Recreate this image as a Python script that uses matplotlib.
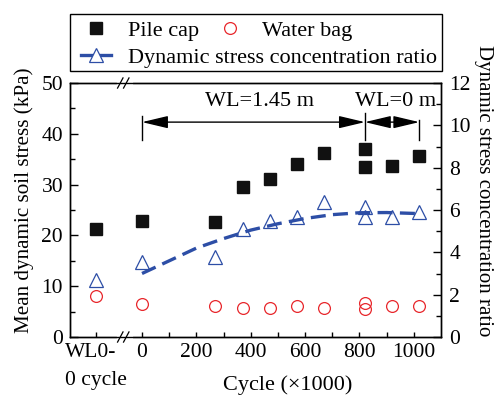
import matplotlib
matplotlib.use('Agg')
import matplotlib.pyplot as plt
from matplotlib.lines import Line2D
from matplotlib.patches import Rectangle
import matplotlib.transforms as mtransforms

plt.rcParams['font.family'] = ['Liberation Serif', 'DejaVu Serif']

# ---------------- data ----------------
wl0_x = -170                      # x position used for the "WL0-0 cycle" category
wl0_label = 'WL0-\n0 cycle'
cycles = [0, 270, 370, 470, 570, 670, 820, 820, 920, 1020]
pile_cap_wl0 = 21.2
pile_cap = [22.8, 22.6, 29.5, 31.1, 34.0, 36.2, 37.0, 33.4, 33.7, 35.6]
water_bag_wl0 = 8.1
water_bag = [6.5, 6.1, 5.8, 5.65, 6.15, 5.65, 6.75, 5.45, 6.1, 6.15]
ratio_wl0 = 2.67
ratio = [3.55, 3.78, 5.1, 5.48, 5.66, 6.39, 6.13, 5.68, 5.68, 5.9]
fit_x = [0, 100, 200, 300, 400, 500, 600, 700, 800, 900, 1020]
fit_y = [3.0, 3.6, 4.2, 4.65, 5.05, 5.35, 5.6, 5.78, 5.87, 5.88, 5.83]
wl_bounds = [0, 820, 1020]
wl_labels = ['WL=1.45 m', 'WL=0 m']
xtick_major = [0, 200, 400, 600, 800, 1000]
xtick_minor = [100, 300, 500, 700, 900]

BLUE = '#2d4ea6'
RED = '#e8262b'
FS = 15.5
LFS = 16

fig = plt.figure(figsize=(4.94, 3.97), dpi=100)
ax = fig.add_axes([70/494, 1-337/397, 371/494, 254/397])
ax2 = ax.twinx()

# ---------------- marks ----------------
ax.plot([wl0_x] + cycles, [pile_cap_wl0] + pile_cap, ls='none', marker='s',
        ms=8, mfc='#111111', mec='#111111', zorder=4)
ax.plot([wl0_x] + cycles, [water_bag_wl0] + water_bag, ls='none', marker='o',
        ms=8.5, mfc='none', mec=RED, mew=0.9, zorder=4)
ax2.plot(fit_x, fit_y, color=BLUE, lw=2.4, ls=(0, (4.5, 2.2)), zorder=3)
ax2.plot([wl0_x] + cycles, [ratio_wl0] + ratio, ls='none', marker='^',
         ms=9.5, mfc='none', mec=BLUE, mew=0.9, zorder=4)

# ---------------- axes ----------------
ax.set_xlim(-265, 1100)
ax.set_ylim(0, 50)
ax2.set_ylim(0, 12)
ax.set_yticks([0, 10, 20, 30, 40, 50])
ax.set_yticks([5, 15, 25, 35, 45], minor=True)
ax2.set_yticks([0, 2, 4, 6, 8, 10, 12])
ax2.set_yticks([1, 3, 5, 7, 9, 11], minor=True)
ax.set_xticks([wl0_x] + xtick_major)
ax.set_xticklabels([wl0_label] + [str(v) for v in xtick_major])
ax.set_xticks(xtick_minor, minor=True)
lbl0 = ax.get_xticklabels()[0]
lbl0.set_multialignment('left')
lbl0.set_linespacing(1.65)

for a in (ax, ax2):
    for s in a.spines.values():
        s.set_linewidth(1.0)
ax.tick_params(axis='y', which='major', direction='in', length=6, width=1.0,
               labelsize=FS, pad=5)
ax.tick_params(axis='y', which='minor', direction='in', length=3.5, width=1.0)
ax.tick_params(axis='x', which='both', direction='in', length=3.5, width=1.0,
               labelsize=FS, pad=4)
ax2.tick_params(axis='y', which='major', direction='in', length=6, width=1.0,
                labelsize=FS, pad=6)
ax2.tick_params(axis='y', which='minor', direction='in', length=3.5, width=1.0)

ax.set_xlabel('Cycle (×1000)', fontsize=16)
ax.xaxis.set_label_coords(0.588, -0.152)
ax.set_ylabel('Mean dynamic soil stress (kPa)', fontsize=15.2)
ax.yaxis.set_label_coords(-0.097, 0.54)
ax2.set_ylabel('Dynamic stress concentration ratio', fontsize=15,
               rotation=270, va='bottom')
ax2.yaxis.set_label_coords(1.088, 0.575)

# ---------------- axis break marks ----------------
trans = mtransforms.blended_transform_factory(ax.transData, ax.transAxes)
for yy in (0, 1):
    ax.plot([-85, -40], [yy, yy], color='white', lw=3, transform=trans,
            clip_on=False, zorder=10)
    for xc in (-80, -58):
        ax.plot([xc - 10, xc + 10], [yy - 0.02, yy + 0.02], color='k', lw=0.9,
                transform=trans, clip_on=False, zorder=11)

# ---------------- water level annotations ----------------
arrow_y = 42.3
for x0, x1 in zip(wl_bounds[:-1], wl_bounds[1:]):
    ax.annotate('', xy=(x0, arrow_y), xytext=(x1, arrow_y),
                arrowprops=dict(arrowstyle='<|-|>,head_length=1.6,head_width=0.38',
                                color='k', lw=1.0, shrinkA=0, shrinkB=0,
                                mutation_scale=10), zorder=5)
bar_tops = [43.5, 44.1, 42.7]
for xb, yt in zip(wl_bounds, bar_tops):
    ax.plot([xb, xb], [38.8, yt], color='k', lw=1.0, zorder=5)
ax.text((wl_bounds[0] + wl_bounds[1]) / 2 + 21, 46.4, wl_labels[0],
        ha='center', va='center', fontsize=LFS)
ax.text((wl_bounds[1] + wl_bounds[2]) / 2 + 11, 46.4, wl_labels[1],
        ha='center', va='center', fontsize=LFS)

# ---------------- legend ----------------
em = LFS / 72 * 100
h_sq = Line2D([], [], ls='none', marker='s', ms=8, mfc='#111111', mec='#111111')
h_ci = Line2D([], [], ls='none', marker='o', ms=8.5, mfc='none', mec=RED, mew=0.9)
h_tr = Line2D([], [], color=BLUE, lw=2.4, ls='-', marker='^', ms=9.5,
              mfc='white', mec=BLUE, mew=0.9)
fig.legend([h_sq, h_ci], ['Pile cap', 'Water bag'], ncol=2, frameon=False,
           loc='center left', bbox_to_anchor=(81/494, 1 - 31/397),
           handlelength=30/em, handletextpad=17/em, columnspacing=16/em,
           borderpad=0, borderaxespad=0, fontsize=LFS)
fig.legend([h_tr], ['Dynamic stress concentration ratio'], frameon=False,
           loc='center left', bbox_to_anchor=(81/494, 1 - 58/397),
           handlelength=30/em, handletextpad=17/em,
           borderpad=0, borderaxespad=0, fontsize=LFS)
fig.add_artist(Rectangle((70/494, 1 - 71/397), 372/494, 57/397,
                         transform=fig.transFigure, fill=False, lw=1.0, ec='k'))

fig.savefig('out.png', dpi=100)
